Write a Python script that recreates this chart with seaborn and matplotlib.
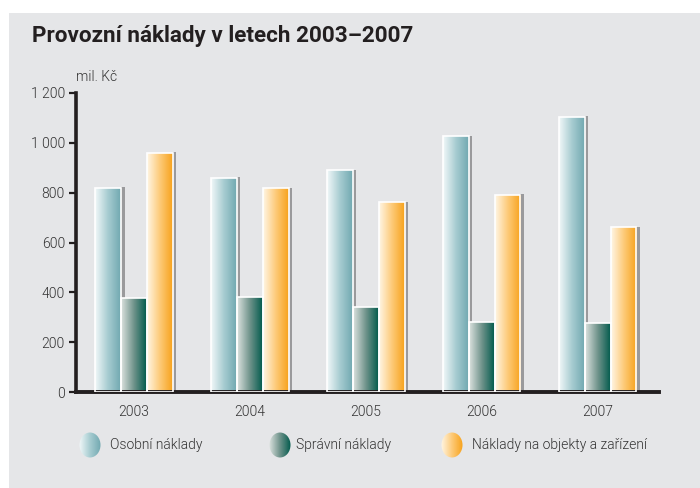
"""
Provozní náklady v letech 2003–2007 — sloupcový graf se skupinami po letech.
Sloupce mají vodorovný přechod barvy a šedý stín vpravo.
"""
import numpy as np
import pandas as pd
import matplotlib
matplotlib.use("Agg")
import matplotlib.pyplot as plt
import seaborn as sns
from matplotlib.patches import Rectangle, Ellipse
from matplotlib.colors import LinearSegmentedColormap

# ===== data (mil. Kč) =====
YEARS = ["2003", "2004", "2005", "2006", "2007"]
OSOBNI = [820, 860, 890, 1027, 1105]
SPRAVNI = [379, 383, 340, 281, 277]
OBJEKTY = [960, 817, 761, 792, 662]
SERIES = ["Osobní náklady", "Správní náklady", "Náklady na objekty a zařízení"]
Y_TICKS = [0, 200, 400, 600, 800, 1000, 1200]
Y_LABELS = ["0", "200", "400", "600", "800", "1 000", "1 200"]
TITLE = "Provozní náklady v letech 2003–2007"
UNIT = "mil. Kč"

GRADIENTS = {
    SERIES[0]: ["#f2f8f9", "#a7ccd1", "#70a8b0"],
    SERIES[1]: ["#dde3e0", "#6f938b", "#005a4c"],
    SERIES[2]: ["#fff6e6", "#fdca78", "#f7a21a"],
}
BG = "#e5e6e8"
INK = "#231f20"
TXT = "#333333"
FONT = ["Roboto", "DejaVu Sans"]
LIGHT = 300

W, H = 700, 488

df = pd.DataFrame({
    "rok": YEARS * 3,
    "hodnota": OSOBNI + SPRAVNI + OBJEKTY,
    "druh": [s for s in SERIES for _ in YEARS],
})

sns.set_theme(style="white")
plt.rcParams["font.family"] = FONT

fig = plt.figure(figsize=(W / 100, H / 100), dpi=100, facecolor="white")
# šedý panel
fig.add_artist(Rectangle((9 / W, 0), 1 - 9 / W, 1 - 13 / H, transform=fig.transFigure,
                         facecolor=BG, edgecolor="none", zorder=0))
fig.text(32 / W, 1 - 42 / H, TITLE, fontsize=16.2, fontweight="bold", color=INK,
         ha="left", va="baseline")

ax = fig.add_axes([76 / W, 96 / H, (659 - 76) / W, (392 - 93) / H])
ax.set_facecolor("none")
sns.barplot(data=df, x="rok", y="hodnota", hue="druh", hue_order=SERIES, order=YEARS,
            width=0.67, gap=0, dodge=True, errorbar=None, legend=False, ax=ax,
            saturation=1)

# px -> data units
px_x = (4.53 + 0.5) / (659 - 76)
px_y = 1200 / (392 - 93)

n = len(YEARS)
grad = np.linspace(0, 1, 256).reshape(1, -1)
for i, s in enumerate(SERIES):
    cmap = LinearSegmentedColormap.from_list(s, GRADIENTS[s])
    for p in ax.patches[i * n:(i + 1) * n]:
        x0, w, h = p.get_x(), p.get_width(), p.get_height()
        # stín
        ax.add_patch(Rectangle((x0 + w, 0), 3.5 * px_x, h + 0.5 * px_y,
                               facecolor="#9a9a9c", edgecolor="none", zorder=1))
        p.set_facecolor("none")
        p.set_edgecolor("white")
        p.set_linewidth(1.2)
        p.set_zorder(3)
        im = ax.imshow(grad, cmap=cmap, aspect="auto", extent=(x0, x0 + w, 0, h),
                       zorder=2, interpolation="bilinear")
        im.set_clip_path(p)
ax.set_xlim(-0.5, 4.53)
ax.set_ylim(0, 1200)

ax.set_xlabel("")
ax.set_ylabel("")
ax.set_yticks(Y_TICKS)
ax.set_yticklabels(Y_LABELS)
for sp in ["top", "right"]:
    ax.spines[sp].set_visible(False)
ax.spines["left"].set_color(INK)
ax.spines["left"].set_linewidth(2.6)
ax.spines["bottom"].set_color(INK)
ax.spines["bottom"].set_linewidth(2.8)
ax.tick_params(axis="y", direction="out", length=5, width=1.6, color=INK,
               labelsize=10, labelcolor=TXT, pad=3, left=True)
ax.tick_params(axis="x", length=0, labelsize=10, labelcolor=TXT, pad=9)
for t in ax.get_xticklabels() + ax.get_yticklabels():
    t.set_fontweight(LIGHT)
ax.text(0, 1.03, UNIT, transform=ax.transAxes, fontsize=10, color=TXT,
        fontweight=LIGHT, ha="left", va="bottom")

# legenda s kulatými značkami s přechodem
lax = fig.add_axes([0, 0, 1, 1])
lax.axis("off")
leg_y = 445
for s, cx, tx in zip(SERIES, [90, 280, 452], [110, 296, 472]):
    cmap = LinearSegmentedColormap.from_list(s + "_leg", GRADIENTS[s])
    el = Ellipse((cx, leg_y), 21, 25, facecolor="none", edgecolor="none")
    lax.add_patch(el)
    im = lax.imshow(grad, cmap=cmap, aspect="auto",
                    extent=(cx - 11, cx + 11, leg_y + 13, leg_y - 13),
                    interpolation="bilinear")
    im.set_clip_path(el)
    lax.text(tx, leg_y, s, fontsize=10, color=TXT, fontweight=LIGHT,
             ha="left", va="center")
lax.set_xlim(0, W)
lax.set_ylim(H, 0)

fig.savefig("out.png", dpi=100, facecolor="white")
